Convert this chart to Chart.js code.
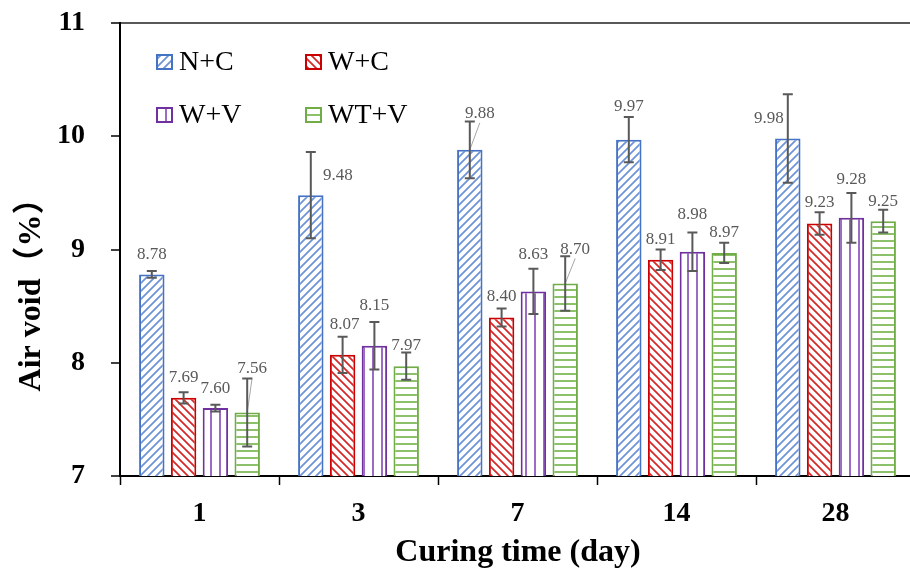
<!DOCTYPE html>
<html>
<head>
<meta charset="utf-8">
<script src="https://cdn.jsdelivr.net/npm/chart.js@4.4.1/dist/chart.umd.min.js"></script>
<style>
  html, body { margin: 0; padding: 0; background: #fff; overflow: hidden; }
  #wrap { width: 916px; height: 576px; }
</style>
</head>
<body>
<div id="wrap"><canvas id="voidChart"></canvas></div>
<script>
// curing days and the four mixes
const days = ['1', '3', '7', '14', '28'];
const seriesNames = ['N+C', 'W+C', 'W+V', 'WT+V'];

// air void (%) per mix
const nc  = [8.78, 9.48, 9.88, 9.97, 9.98];
const wc  = [7.69, 8.07, 8.40, 8.91, 9.23];
const wv  = [7.60, 8.15, 8.63, 8.98, 9.28];
const wtv = [7.56, 7.97, 8.70, 8.97, 9.25];

// standard deviation (error bar half-length)
const ncErr  = [0.03, 0.38, 0.25, 0.20, 0.39];
const wcErr  = [0.05, 0.16, 0.08, 0.09, 0.10];
const wvErr  = [0.03, 0.21, 0.20, 0.17, 0.22];
const wtvErr = [0.30, 0.12, 0.24, 0.09, 0.10];

const yTicks = [7, 8, 9, 10, 11];

// value label nudges in px [dx, dy from bar top], and which ones get a leader line
const labelShift = [
  [[0, -20], [27, -20], [10, -36], [0, -33], [-19, -20]],
  [[0, -20], [2, -30], [0, -21], [0, -20], [0, -21]],
  [[0, -20], [0, -40], [0, -37], [0, -37], [0, -38]],
  [[5, -44], [0, -21], [10, -34], [0, -20], [0, -20]]
];
const leaders = [[0, 2], [3, 0], [3, 2]];

const serif = "'Liberation Serif', 'Times New Roman', serif";
const canvas = document.getElementById('voidChart');
const ctx = canvas.getContext('2d');

// small tiles for the hatched fills
function hatch(color, kind) {
  const size = kind === 'vert' ? 9 : (kind === 'horiz' ? 7 : 8);
  const t = document.createElement('canvas');
  t.width = size; t.height = size;
  const g = t.getContext('2d');
  g.fillStyle = '#fff';
  g.fillRect(0, 0, size, size);
  g.strokeStyle = color;
  g.lineWidth = kind === 'vert' || kind === 'horiz' ? 2 : 1.8;
  g.beginPath();
  if (kind === 'up') {
    g.moveTo(-1, size + 1); g.lineTo(size + 1, -1);
    g.moveTo(-2, 2); g.lineTo(2, -2);
    g.moveTo(size - 2, size + 2); g.lineTo(size + 2, size - 2);
  } else if (kind === 'down') {
    g.moveTo(-1, -1); g.lineTo(size + 1, size + 1);
    g.moveTo(size - 2, -2); g.lineTo(size + 2, 2);
    g.moveTo(-2, size - 2); g.lineTo(2, size + 2);
  } else if (kind === 'vert') {
    g.moveTo(4, 0); g.lineTo(4, size);
  } else {
    g.moveTo(0, 3); g.lineTo(size, 3);
  }
  g.stroke();
  return ctx.createPattern(t, 'repeat');
}

const borders = ['#4472C4', '#CC0000', '#7030A0', '#70AD47'];
const fills = [
  hatch('#6f93d8', 'up'),
  hatch('#d42a2a', 'down'),
  hatch('#9a6cc4', 'vert'),
  hatch('#8cc16a', 'horiz')
];
const values = [nc, wc, wv, wtv];
const errors = [ncErr, wcErr, wvErr, wtvErr];

// error bars, value labels and leader lines
const barExtras = {
  id: 'barExtras',
  afterDatasetsDraw(chart) {
    const c = chart.ctx;
    const y = chart.scales.y;
    c.save();
    // leader lines first, so error bars sit on top
    c.strokeStyle = '#a6a6a6';
    c.lineWidth = 1;
    leaders.forEach(([i, j]) => {
      const bar = chart.getDatasetMeta(i).data[j];
      const [dx, dy] = labelShift[i][j];
      c.beginPath();
      c.moveTo(bar.x + dx, bar.y + dy + 9);
      c.lineTo(bar.x, bar.y);
      c.stroke();
    });
    c.strokeStyle = '#595959';
    c.lineWidth = 2;
    values.forEach((vals, i) => {
      chart.getDatasetMeta(i).data.forEach((bar, j) => {
        const hi = y.getPixelForValue(vals[j] + errors[i][j]);
        const lo = y.getPixelForValue(vals[j] - errors[i][j]);
        c.beginPath();
        c.moveTo(bar.x, hi); c.lineTo(bar.x, lo);
        c.moveTo(bar.x - 5, hi); c.lineTo(bar.x + 5, hi);
        c.moveTo(bar.x - 5, lo); c.lineTo(bar.x + 5, lo);
        c.stroke();
      });
    });
    c.fillStyle = '#595959';
    c.font = '17px ' + serif;
    c.textAlign = 'center';
    c.textBaseline = 'middle';
    values.forEach((vals, i) => {
      chart.getDatasetMeta(i).data.forEach((bar, j) => {
        const [dx, dy] = labelShift[i][j];
        c.fillText(vals[j].toFixed(2), bar.x + dx, bar.y + dy);
      });
    });
    c.restore();
  }
};

// 2x2 legend inside the plot and the two axis titles
const decor = {
  id: 'decor',
  afterDraw(chart) {
    const c = chart.ctx;
    const a = chart.chartArea;
    c.save();
    const spots = [[36, 31], [185, 31], [36, 84], [185, 84]];
    c.font = '28px ' + serif;
    c.textBaseline = 'middle';
    c.textAlign = 'left';
    seriesNames.forEach((name, i) => {
      const bx = a.left + spots[i][0];
      const by = a.top + spots[i][1];
      c.fillStyle = fills[i];
      c.fillRect(bx, by, 17, 16);
      c.strokeStyle = borders[i];
      c.lineWidth = 2;
      c.strokeRect(bx + 1, by + 1, 15, 14);
      c.fillStyle = '#000';
      c.fillText(name, bx + 23, by + 9);
    });

    c.font = 'bold 32px ' + serif + ", 'Noto Sans CJK SC'";
    c.textAlign = 'center';
    c.fillText('Curing time (day)', 518, 553);
    c.translate(32, 287);
    c.rotate(-Math.PI / 2);
    c.font = "bold 32px 'Liberation Serif', 'Noto Sans CJK SC', serif";
    c.fillText('Air void（%）', 0, 0);
    c.restore();
  }
};

new Chart(ctx, {
  type: 'bar',
  data: {
    labels: days,
    datasets: seriesNames.map((name, i) => ({
      label: name,
      data: values[i],
      backgroundColor: fills[i],
      borderColor: borders[i],
      borderWidth: 2,
      categoryPercentage: 0.8,
      barPercentage: 0.8
    }))
  },
  options: {
    responsive: true,
    maintainAspectRatio: false,
    animation: false,
    layout: { padding: { left: 0, top: 23, right: 1, bottom: 0 } },
    plugins: {
      legend: { display: false },
      tooltip: { enabled: false }
    },
    scales: {
      x: {
        border: { color: '#000', width: 2 },
        grid: { drawOnChartArea: false, tickLength: 9, tickColor: '#000', tickWidth: 1.5 },
        ticks: { color: '#000', padding: 12, font: { family: serif, size: 28, weight: 'bold' } },
        afterFit: s => { s.height = 100; s.paddingLeft = 0; s.paddingRight = 0; }
      },
      y: {
        min: yTicks[0],
        max: yTicks[yTicks.length - 1],
        afterBuildTicks: s => { s.ticks = yTicks.map(v => ({ value: v })); },
        border: { color: '#000', width: 2 },
        grid: {
          color: g => (g.tick && g.tick.value === 11 ? '#595959' : 'rgba(0,0,0,0)'),
          lineWidth: 2,
          tickLength: 9,
          tickColor: '#000',
          tickWidth: 1.5
        },
        ticks: { color: '#000', padding: 26, font: { family: serif, size: 28, weight: 'bold' } },
        afterFit: s => { s.width = 120; s.paddingTop = 0; s.paddingBottom = 0; }
      }
    }
  },
  plugins: [barExtras, decor]
});
</script>
</body>
</html>
